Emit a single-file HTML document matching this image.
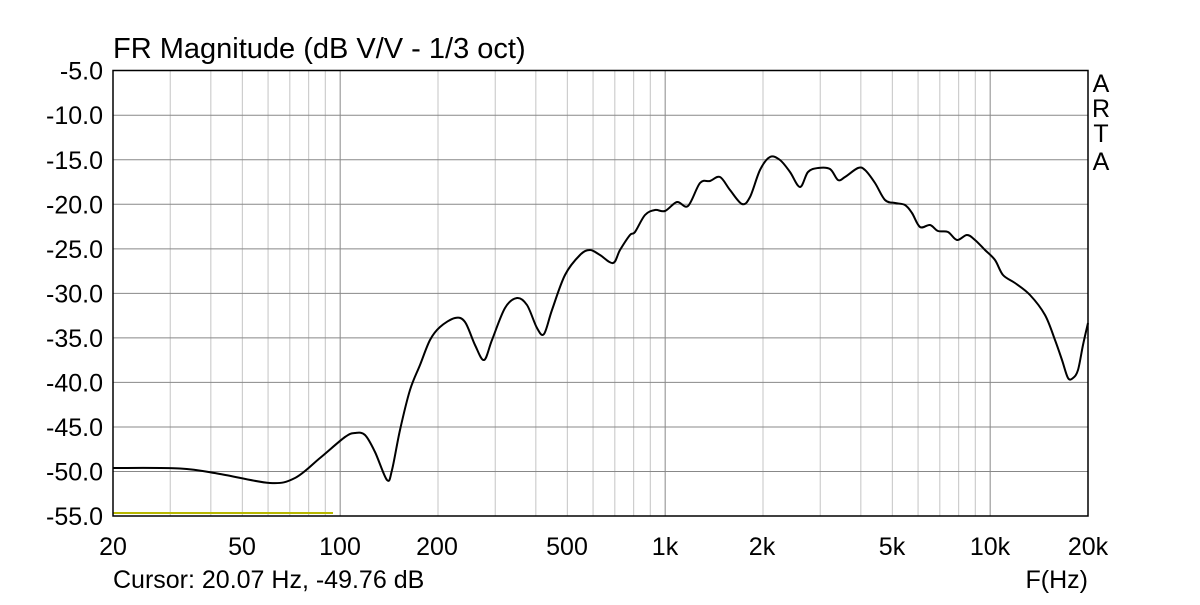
<!DOCTYPE html><html><head><style>body{margin:0;background:#fff}svg text{font-family:"Liberation Sans",sans-serif;fill:#000}</style></head><body>
<svg width="1200" height="600" xmlns="http://www.w3.org/2000/svg">
<g id="g"></g>
<text x="113" y="58" font-size="29">FR Magnitude (dB V/V - 1/3 oct)</text>
<g font-size="25" text-anchor="end" id="yl"></g>
<g font-size="25" text-anchor="middle">
<text x="113" y="555">20</text><text x="242" y="555">50</text><text x="340" y="555">100</text><text x="437" y="555">200</text><text x="567" y="555">500</text><text x="665" y="555">1k</text><text x="762" y="555">2k</text><text x="892" y="555">5k</text><text x="990" y="555">10k</text><text x="1088" y="555">20k</text></g>
<g font-size="25" text-anchor="middle"><text x="1101" y="92">A</text><text x="1101" y="117">R</text><text x="1101" y="142">T</text><text x="1101" y="170">A</text></g>
<text x="113" y="588" font-size="25">Cursor: 20.07 Hz, -49.76 dB</text>
<text x="1088" y="588" font-size="25" text-anchor="end">F(Hz)</text>
<line x1="113" y1="513" x2="333" y2="513" stroke="#b8b800" stroke-width="2"/>
<path id="c" fill="none" stroke="#000" stroke-width="2" stroke-linejoin="round"/>
<rect x="113" y="70.5" width="975" height="445.5" fill="none" stroke="#000" stroke-width="1.5"/>
</svg>
<script>
var g=document.getElementById('g'),yl=document.getElementById('yl'),s='';
var fs=[30,40,50,60,70,80,90,100,200,300,400,500,600,700,800,900,1000,2000,3000,4000,5000,6000,7000,8000,9000,10000];
fs.forEach(function(f){var x=113+325*Math.log10(f/20);var m=(f==100||f==1000||f==10000);s+='<line x1="'+x+'" y1="70" x2="'+x+'" y2="516" stroke="'+(m?'#888':'#c4c4c4')+'" stroke-width="1"/>';});
var t='';for(var i=0;i<=10;i++){var y=70.7+i*44.53;if(i>0&&i<10)s+='<line x1="113" y1="'+y+'" x2="1088" y2="'+y+'" stroke="#888" stroke-width="1"/>';t+='<text x="103" y="'+(y+9)+'">'+(-5-5*i).toFixed(1)+'</text>';}
g.innerHTML=s;yl.innerHTML=t;
var p=[[113,468],[180,468.5],[220,474],[270,483],[295,478],[320,458],[345,437],[355,433],[365,435],[375,452],[387,480],[392,470],[400,430],[410,390],[420,365],[430,340],[440,327],[455,318],[465,322],[475,345],[484,360],[492,340],[505,308],[517,298],[527,305],[537,328],[544,334],[552,310],[565,275],[580,255],[590,250],[600,255],[613,263],[620,250],[630,235],[635,232],[645,215],[655,210],[665,211],[677,202],[688,206],[700,183],[710,181],[720,177],[730,190],[742,204],[750,197],[760,170],[770,157],[780,160],[790,172],[800,187],[808,172],[818,168],[830,169],[838,180],[845,177],[858,168],[865,170],[875,183],[885,200],[895,203],[905,205],[912,213],[920,227],[930,225],[938,231],[948,232],[957,240],[967,235],[975,240],[985,250],[995,260],[1003,275],[1015,283],[1030,295],[1045,315],[1055,340],[1062,360],[1068,378],[1073,378],[1078,370],[1083,345],[1088,323]];
var d='M'+p[0];for(var i=0;i<p.length-1;i++){var a=p[Math.max(i-1,0)],b=p[i],c=p[i+1],e=p[Math.min(i+2,p.length-1)];
d+=' C'+(b[0]+(c[0]-a[0])/6)+','+(b[1]+(c[1]-a[1])/6)+' '+(c[0]-(e[0]-b[0])/6)+','+(c[1]-(e[1]-b[1])/6)+' '+c[0]+','+c[1];}
document.getElementById('c').setAttribute('d',d);
</script>
</body></html>
